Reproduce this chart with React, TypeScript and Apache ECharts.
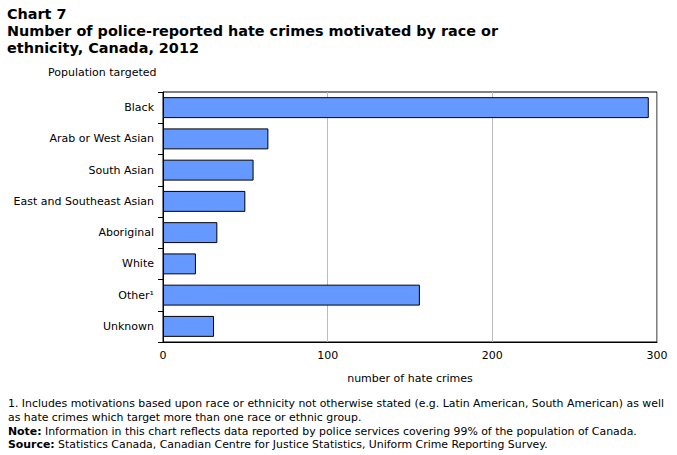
import React, { useEffect, useRef } from "react";
import * as echarts from "echarts";

const categories = [
  "Black",
  "Arab or West Asian",
  "South Asian",
  "East and Southeast Asian",
  "Aboriginal",
  "White",
  "Other¹",
  "Unknown",
];
const values = [295, 64, 55, 50, 33, 20, 156, 31];
const xTicks = [0, 100, 200, 300];

const titleLines = [
  "Chart 7",
  "Number of police-reported hate crimes motivated by race or",
  "ethnicity, Canada, 2012",
];

const FONT = "DejaVu Sans";

export default function App() {
  const ref = useRef<HTMLDivElement>(null);
  useEffect(() => {
    if (!ref.current) return;
    const chart = echarts.init(ref.current, null, { renderer: "svg" });
    chart.setOption({
      animation: false,
      backgroundColor: "#ffffff",
      grid: {
        left: 163,
        right: 20,
        top: 92,
        bottom: 113,
        show: true,
        borderColor: "#000",
        borderWidth: 1,
        backgroundColor: "transparent",
      },
      xAxis: {
        type: "value",
        min: xTicks[0],
        max: xTicks[xTicks.length - 1],
        interval: 100,
        name: "number of hate crimes",
        nameLocation: "middle",
        nameGap: 31,
        nameTextStyle: { fontFamily: FONT, fontSize: 11, color: "#000" },
        axisLine: { show: true, lineStyle: { color: "#000", width: 1 } },
        axisTick: { show: false },
        axisLabel: { fontFamily: FONT, fontSize: 11, color: "#000", margin: 8 },
        splitLine: { show: true, lineStyle: { color: "#bbbbbb", width: 1 } },
      },
      yAxis: {
        type: "category",
        data: categories,
        inverse: true,
        axisLine: { show: true, lineStyle: { color: "#000", width: 1 } },
        axisTick: { show: true, length: 5, lineStyle: { color: "#000" } },
        axisLabel: { fontFamily: FONT, fontSize: 11, color: "#000", margin: 9 },
        splitLine: { show: false },
      },
      series: [
        {
          type: "bar",
          data: values,
          barCategoryGap: "33%",
          itemStyle: { color: "#6699ff", borderColor: "#000", borderWidth: 1 },
        },
      ],
      graphic: [
        {
          type: "text",
          left: 7,
          top: 5,
          style: {
            text: titleLines.join("\n"),
            fontFamily: FONT,
            fontWeight: "bold",
            fontSize: 14.4,
            lineHeight: 17,
            fill: "#000",
          },
        },
        {
          type: "text",
          left: 48,
          top: 67,
          style: {
            text: "Population targeted",
            fontFamily: FONT,
            fontSize: 11,
            fill: "#000",
          },
        },
        {
          type: "text",
          left: 8,
          top: 397,
          style: {
            text:
              "1. Includes motivations based upon race or ethnicity not otherwise stated (e.g. Latin American, South American) as well\n" +
              "as hate crimes which target more than one race or ethnic group.\n" +
              "{b|Note:} Information in this chart reflects data reported by police services covering 99% of the population of Canada.\n" +
              "{b|Source:} Statistics Canada, Canadian Centre for Justice Statistics, Uniform Crime Reporting Survey.",
            fontFamily: FONT,
            fontSize: 10.9,
            lineHeight: 13.7,
            fill: "#000",
            rich: {
              b: {
                fontFamily: FONT,
                fontWeight: "bold",
                fontSize: 10.9,
                lineHeight: 13.7,
                fill: "#000",
              },
            },
          },
        },
      ],
    });
    return () => chart.dispose();
  }, []);
  return (
    <div
      ref={ref}
      style={{ position: "absolute", left: 0, top: 0, width: 677, height: 455 }}
    />
  );
}
